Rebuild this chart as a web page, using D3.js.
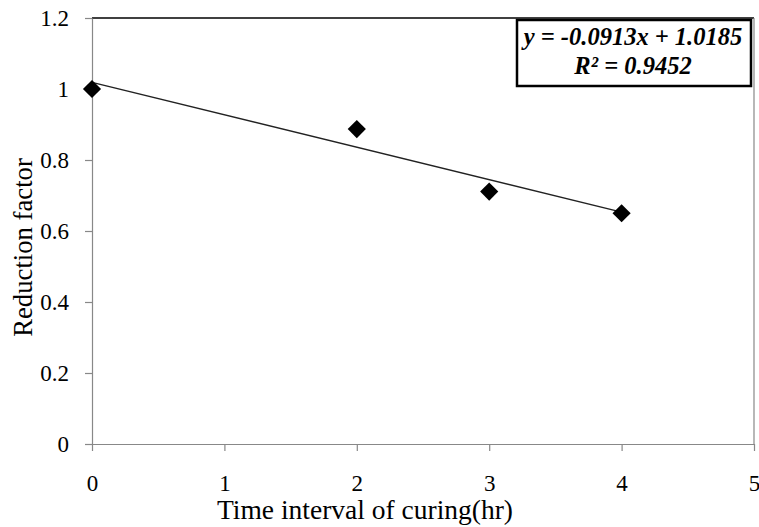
<!DOCTYPE html>
<html>
<head>
<meta charset="utf-8">
<script src="https://cdn.jsdelivr.net/npm/d3@7"></script>
<style>
  body { margin: 0; background: #fff; }
</style>
</head>
<body>
<div class="chart"></div>
<script>
// Reduction factor vs curing time

var hours = [0, 2, 3, 4];
var reduction = [1.0, 0.887, 0.711, 0.65];
var xTicks = [0, 1, 2, 3, 4, 5];
var yTicks = [0, 0.2, 0.4, 0.6, 0.8, 1, 1.2];
var slope = -0.0913;
var intercept = 1.0185;
var eqLines = ["y = -0.0913x + 1.0185", "R² = 0.9452"];

var serif = "'Liberation Serif'";

var svgWidth = 759;
var svgHeight = 527;

var margin = { top: 18, right: 5, bottom: 83, left: 92 };
var width = svgWidth - margin.left - margin.right;
var height = svgHeight - margin.top - margin.bottom;

var svg = d3.select(".chart")
  .append("svg")
  .attr("width", svgWidth)
  .attr("height", svgHeight)
  .attr("font-family", serif);

var chartGroup = svg.append("g")
  .attr("transform", `translate(${margin.left}, ${margin.top})`);

var xScale = d3.scaleLinear().domain([0, 5]).range([0, width]);
var yScale = d3.scaleLinear().domain([0, 1.2]).range([height, 0]);

// top + right border
chartGroup.append("line")
  .attr("x1", 0).attr("x2", width).attr("y1", 0).attr("y2", 0)
  .attr("stroke", "#000").attr("stroke-width", 1.5);
chartGroup.append("line")
  .attr("x1", width).attr("x2", width).attr("y1", 0).attr("y2", height)
  .attr("stroke", "#888").attr("stroke-width", 1.2);

// axes
var bottomAxis = d3.axisBottom(xScale).tickValues(xTicks).tickFormat(d3.format("d"))
  .tickSizeInner(7).tickSizeOuter(0).tickPadding(24);
var leftAxis = d3.axisLeft(yScale).tickValues(yTicks).tickFormat(d => d3.format("")(d))
  .tickSizeInner(7).tickSizeOuter(0).tickPadding(16);

var xAxis = chartGroup.append("g")
  .attr("transform", `translate(0, ${height})`)
  .call(bottomAxis);
var yAxis = chartGroup.append("g").call(leftAxis);

[xAxis, yAxis].forEach(function(ax) {
  ax.attr("font-family", serif).attr("font-size", 23);
  ax.select(".domain").attr("stroke", "#888").attr("stroke-width", 1.2);
  ax.selectAll(".tick line").attr("stroke", "#888").attr("stroke-width", 1.2);
  ax.selectAll(".tick text").attr("fill", "#000");
});

// trend line
chartGroup.append("line")
  .attr("x1", xScale(0)).attr("y1", yScale(intercept))
  .attr("x2", xScale(4)).attr("y2", yScale(intercept + slope * 4))
  .attr("stroke", "#222").attr("stroke-width", 1.4);

// diamonds
chartGroup.selectAll(".pt")
  .data(hours)
  .enter()
  .append("path")
  .attr("class", "pt")
  .attr("d", d3.symbol().type(d3.symbolSquare).size(165))
  .attr("transform", (d, i) => `translate(${xScale(d)}, ${yScale(reduction[i])}) rotate(45)`)
  .attr("fill", "#000");

// equation box
var box = svg.append("g");
box.append("rect")
  .attr("x", 517).attr("y", 20)
  .attr("width", 234).attr("height", 66)
  .attr("fill", "#fff").attr("stroke", "#000").attr("stroke-width", 2.5);
box.selectAll("text")
  .data(eqLines)
  .enter()
  .append("text")
  .attr("x", 633)
  .attr("y", (d, i) => 45 + i * 29)
  .attr("text-anchor", "middle")
  .attr("font-family", serif)
  .attr("font-size", 24.5)
  .attr("font-weight", "bold")
  .attr("font-style", "italic")
  .text(d => d);

// axis titles
svg.append("text")
  .attr("x", 365)
  .attr("y", 519)
  .attr("text-anchor", "middle")
  .attr("font-family", serif)
  .attr("font-size", 27.5)
  .text("Time interval of curing(hr)");

svg.append("text")
  .attr("transform", "translate(32, 247.5) rotate(-90)")
  .attr("text-anchor", "middle")
  .attr("font-family", serif)
  .attr("font-size", 26.7)
  .text("Reduction factor");
</script>
</body>
</html>
